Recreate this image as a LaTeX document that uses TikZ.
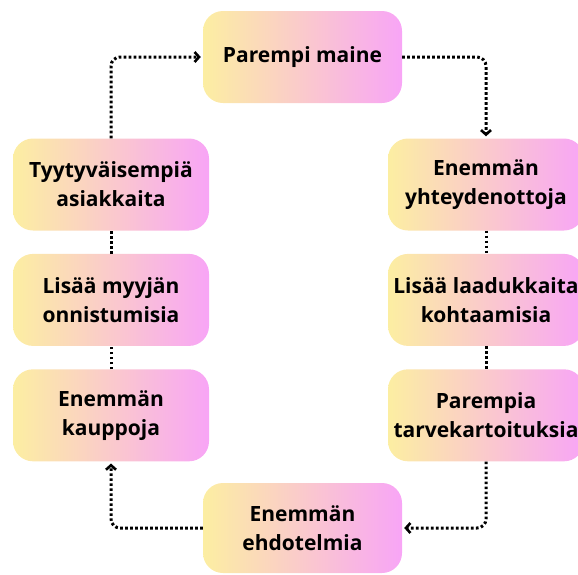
\documentclass[tikz,border=0pt]{standalone}
\usepackage{fontspec}
\setmainfont{Open Sans}
\usepackage{tikz}
\usetikzlibrary{positioning,arrows.meta}
\definecolor{boxyellow}{HTML}{FCEEA2}
\definecolor{boxpink}{HTML}{F8A5F6}

\begin{document}
\begin{tikzpicture}[
    x=1pt, y=-1pt,
    node distance=23pt and 0pt,
    box/.style={rectangle, rounded corners=20pt, minimum width=196pt, minimum height=92pt, align=center, font=\fontsize{21}{29}\selectfont\bfseries, left color=boxyellow, right color=boxpink, draw=none, inner sep=0pt},
    wide/.style={box, minimum width=199pt},
    dots/.style={line width=3pt, dash pattern=on 2.6pt off 2.4pt, rounded corners=9pt},
    arr/.style={dots, -{Straight Barb[length=4.5pt, width=10pt, line width=2.6pt]}, shorten >=2pt}
]
\useasboundingbox (0,0) rectangle (578,574);

% Top and bottom
\node[wide] (maine) at (302.5,57) {Parempi maine};
\node[wide, minimum height=90pt] (ehdot) at (302.5,528) {Enemmän\\ehdotelmia};

% Right column
\node[box] (yhteys) at (486,184.5) {Enemmän\\yhteydenottoja};
\node[box, below=of yhteys] (kohtaamiset) {Lisää laadukkaita\\kohtaamisia};
\node[box, below=of kohtaamiset] (tarve) {Parempia\\tarvekartoituksia};

% Left column
\node[box] (asiakkaat) at (111,184.5) {Tyytyväisempiä\\asiakkaita};
\node[box, below=of asiakkaat] (onnistumiset) {Lisää myyjän\\onnistumisia};
\node[box, below=of onnistumiset] (kaupat) {Enemmän\\kauppoja};

% Connectors
\draw[arr] (maine.east) -| (yhteys.north);
\draw[dots] (yhteys.south) -- (kohtaamiset.north);
\draw[dots] (kohtaamiset.south) -- (tarve.north);
\draw[arr] (tarve.south) |- (ehdot.east);
\draw[arr] (ehdot.west) -| (kaupat.south);
\draw[dots] (kaupat.north) -- (onnistumiset.south);
\draw[dots] (onnistumiset.north) -- (asiakkaat.south);
\draw[arr] (asiakkaat.north) |- (maine.west);

\end{tikzpicture}
\end{document}
